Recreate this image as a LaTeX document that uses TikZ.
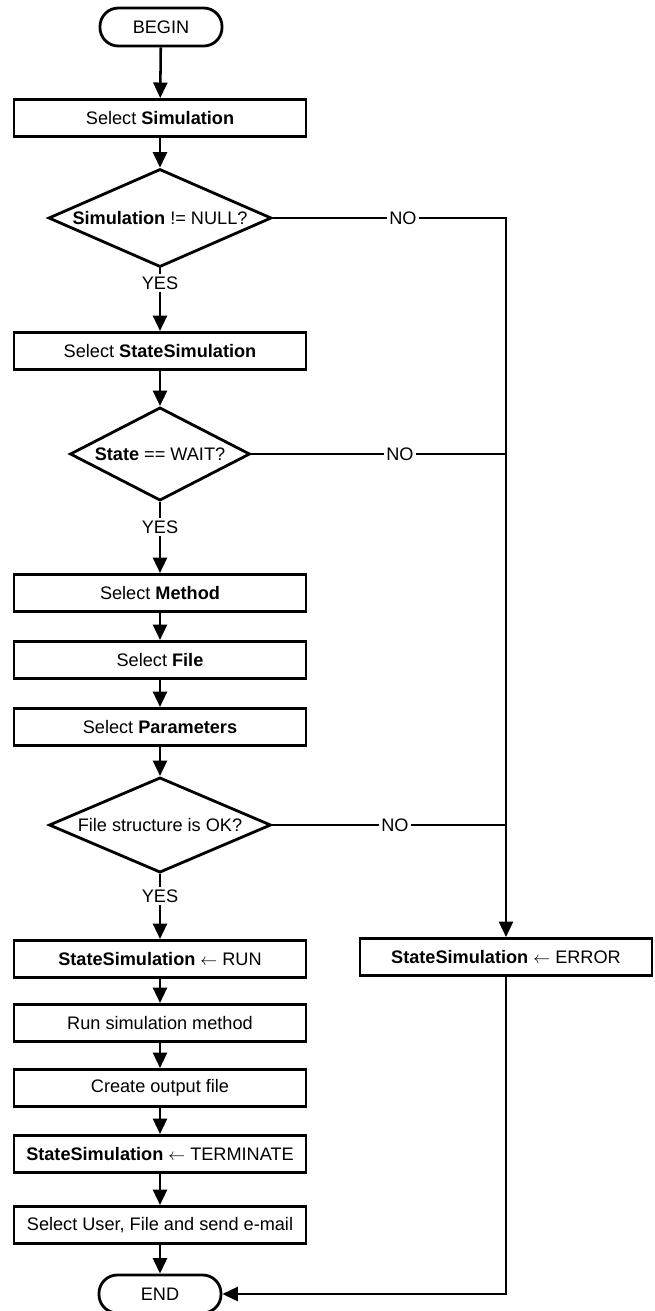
\documentclass[tikz,border=0pt]{standalone}
\usepackage{fontspec}
\setmainfont{Liberation Sans}
\usetikzlibrary{shapes.geometric,arrows.meta}

\tikzset{
  procbox/.style={draw,line width=2pt,minimum width=7.3cm,minimum height=0.93cm,inner sep=0pt},
  termbox/.style={draw,line width=2pt,rounded corners=0.46cm,minimum width=3.05cm,minimum height=0.95cm,inner sep=0pt},
  decision/.style={draw,diamond,line width=2pt,inner sep=0pt},
  answer/.style={fill=white,inner sep=1.5pt},
  flowarrow/.style={line width=1.8pt,-{Triangle[width=10pt,length=11pt]}},
  flowline/.style={line width=1.8pt},
}

\begin{document}
\begin{tikzpicture}[x=0.025cm,y=-0.025cm,line join=miter,font=\fontsize{12.9}{15}\selectfont]
        \useasboundingbox (0,0) rectangle (654,1311);

        % Main branch
        \node[termbox] (start) at (161,27) {BEGIN};
        \node[procbox] (selsim) at (160,118) {Select \textbf{Simulation}};
        \node[decision,aspect=2.28,minimum width=5.575cm,minimum height=2.45cm] (simok) at (160,218) {\textbf{Simulation} != NULL?};
        \node[answer] (yes1) at (160,283) {YES};
        \node[procbox] (selstate) at (160,351) {Select \textbf{StateSimulation}};
        \node[decision,aspect=1.94,minimum width=4.5cm,minimum height=2.33cm] (waitok) at (160,454) {\textbf{State} == WAIT?};
        \node[answer] (yes2) at (160,527) {YES};
        \node[procbox] (selmethod) at (160,593) {Select \textbf{Method}};
        \node[procbox] (selfile) at (160,660) {Select \textbf{File}};
        \node[procbox] (selparam) at (160,727) {Select \textbf{Parameters}};
        \node[decision,aspect=2.34,minimum width=5.55cm,minimum height=2.38cm] (fileok) at (160,825) {File structure is OK?};
        \node[answer] (yes3) at (160,896) {YES};
        \node[procbox] (setrun) at (160,959) {\textbf{StateSimulation} $\leftarrow$ RUN};
        \node[procbox] (runsim) at (160,1023) {Run simulation method};
        \node[procbox] (mkout) at (160,1088) {Create output file};
        \node[procbox] (setterm) at (160,1154) {\textbf{StateSimulation} $\leftarrow$ TERMINATE};
        \node[procbox] (mail) at (160,1225) {Select User, File and send e-mail};
        \node[termbox] (stop) at (160,1294) {END};

        \draw[flowarrow] (start) -- (selsim);
        \draw[flowarrow] (selsim) -- (simok);
        \draw[flowline] (simok) -- (yes1);
        \draw[flowarrow] (yes1) -- (selstate);
        \draw[flowarrow] (selstate) -- (waitok);
        \draw[flowline] (waitok) -- (yes2);
        \draw[flowarrow] (yes2) -- (selmethod);
        \draw[flowarrow] (selmethod) -- (selfile);
        \draw[flowarrow] (selfile) -- (selparam);
        \draw[flowarrow] (selparam) -- (fileok);
        \draw[flowline] (fileok) -- (yes3);
        \draw[flowarrow] (yes3) -- (setrun);
        \draw[flowarrow] (setrun) -- (runsim);
        \draw[flowarrow] (runsim) -- (mkout);
        \draw[flowarrow] (mkout) -- (setterm);
        \draw[flowarrow] (setterm) -- (mail);
        \draw[flowarrow] (mail) -- (stop);

        % Error branch
        \node[procbox] (seterr) at (506,957) {\textbf{StateSimulation} $\leftarrow$ ERROR};
        \node[answer] (no1) at (403,218) {NO};
        \node[answer] (no2) at (400,454) {NO};
        \node[answer] (no3) at (395,825) {NO};
        \coordinate (join1) at (506,218);
        \coordinate (join2) at (506,454);
        \coordinate (join3) at (506,825);

        \draw[flowline] (simok.east) -- (no1);
        \draw[flowline] (waitok.east) -- (no2);
        \draw[flowline] (fileok.east) -- (no3);
        \draw[flowline] (no2) -- (join2);
        \draw[flowline] (no3) -- (join3);
        \draw[flowarrow] (no1) -- (join1) -- (seterr);
        \draw[flowarrow] (seterr) |- (stop);
    \end{tikzpicture}
\end{document}
